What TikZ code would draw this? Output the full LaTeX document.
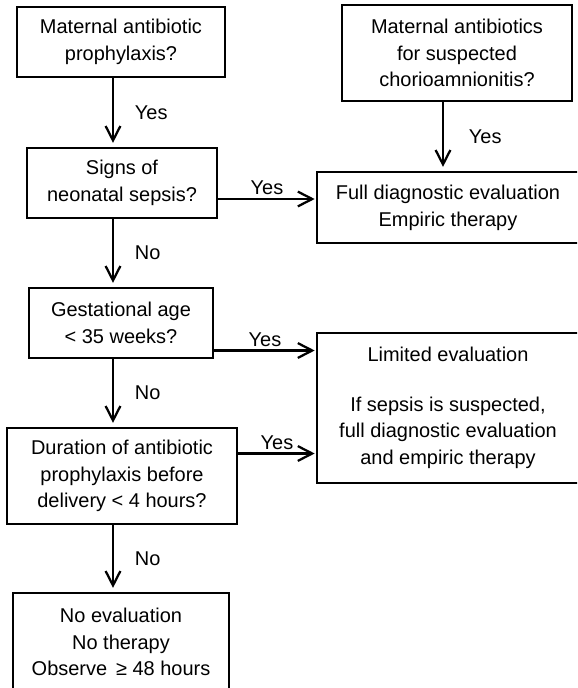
\documentclass[tikz,border=0pt]{standalone}
\usepackage{fontspec}
\setmainfont{Liberation Sans}
\usepackage{tikz}
\usetikzlibrary{arrows.meta, positioning, calc}

\begin{document}
\begin{tikzpicture}[
        box/.style={draw, line width=1.3pt, inner sep=0pt, align=center,
                    font=\fontsize{14.2pt}{19pt}\selectfont},
        lbl/.style={font=\fontsize{14.2pt}{19pt}\selectfont, inner sep=2pt},
        ->, >={Straight Barb[length=3.6mm, width=3.7mm]}, line width=1.6pt,
        shorten >=3pt
    ]
% Picture frame, the two wide boxes run past it
\clip (0,0) rectangle (14.425,-17.2);

% Main column
\node[box, minimum width=5.2cm, minimum height=1.75cm] (map) at (3.025,-1.05)
      {Maternal antibiotic\\prophylaxis?};
\node[box, minimum width=4.75cm, minimum height=1.75cm] (signs) at (3.05,-4.575)
      {Signs of\\neonatal sepsis?};
\node[box, minimum width=4.6cm, minimum height=1.75cm] (gest) at (3.025,-8.075)
      {Gestational age\\< 35 weeks?};
\node[box, minimum width=5.75cm, minimum height=2.4cm] (dur) at (3.05,-11.9)
      {Duration of antibiotic\\prophylaxis before\\delivery < 4 hours?};
\node[box, minimum width=5.4cm, minimum height=2.45cm] (noeval) at (3.025,-16.05)
      {No evaluation\\No therapy\\Observe \,≥ 48 hours};

% Right column
\node[box, minimum width=5.75cm, minimum height=2.4cm] (chorio) at (11.425,-1.325)
      {Maternal antibiotics\\for suspected\\chorioamnionitis?};
\node[box, minimum width=6.55cm, minimum height=1.775cm] (full) at (11.2,-5.1875)
      {Full diagnostic evaluation\\Empiric therapy};
\node[box, minimum width=6.55cm, minimum height=3.75cm] (limited) at (11.2,-10.2)
      {Limited evaluation\\[16pt]If sepsis is suspected,\\full diagnostic evaluation\\and empiric therapy};

% Where the connectors run
\coordinate (trunk) at (2.825,0);
\coordinate (col) at (11.075,0);
\coordinate (ySF) at (0,-4.975);
\coordinate (yGL) at (0,-8.7625);
\coordinate (yDL) at (0,-11.3375);

% Down the main column
\draw (map.south -| trunk) -- node[lbl, midway, right=0.45cm] {Yes} (signs.north -| trunk);
\draw (signs.south -| trunk) -- node[lbl, midway, right=0.45cm] {No} (gest.north -| trunk);
\draw (gest.south -| trunk) -- node[lbl, midway, right=0.45cm] {No} (dur.north -| trunk);
\draw (dur.south -| trunk) -- node[lbl, midway, right=0.45cm] {No} (noeval.north -| trunk);

% Chorioamnionitis into full evaluation
\draw (chorio.south -| col) -- node[lbl, midway, right=0.55cm] {Yes} (full.north -| col);

% Across to the right column
\draw[shorten >=1pt] (signs.east |- ySF) -- node[lbl, midway, above] {Yes} (full.west |- ySF);
\draw[shorten >=1pt] (gest.east |- yGL) -- node[lbl, midway, above] {Yes} (limited.west |- yGL);
\draw[shorten >=1pt] (dur.east |- yDL) -- node[lbl, midway, above] {Yes} (limited.west |- yDL);
\end{tikzpicture}
\end{document}
